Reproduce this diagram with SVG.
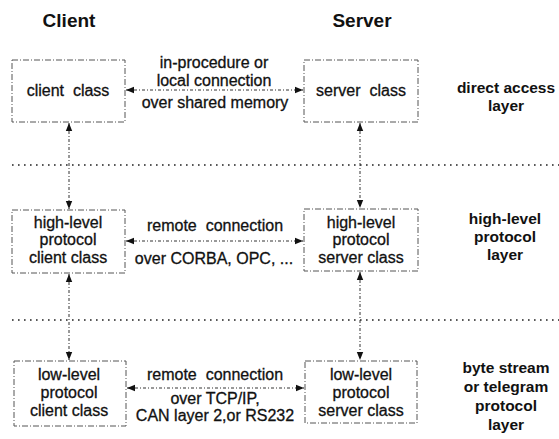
<svg xmlns="http://www.w3.org/2000/svg" width="559" height="439" viewBox="0 0 559 439">
<defs>
<style>
.box{fill:none;stroke:#555;stroke-width:1;stroke-dasharray:6 2 1 2}
.conn{stroke:#333;stroke-width:1;stroke-dasharray:3 2 1 2;fill:none}
.sep{stroke:#222;stroke-width:1.6;stroke-dasharray:1.6 4.4;fill:none}
text{font-family:"Liberation Sans",Arial,sans-serif;fill:#111;text-anchor:middle}
.t{font-size:16px;stroke:#111;stroke-width:0.3}
.b{font-size:15.5px;font-weight:bold}
.h{font-size:19px;font-weight:bold}
</style>
<marker id="ah" viewBox="0 0 10 10" refX="10" refY="5" markerWidth="8" markerHeight="8" orient="auto-start-reverse" markerUnits="userSpaceOnUse">
<path d="M0,1 L10,5 L0,9 z" fill="#111"/>
</marker>
</defs>
<rect width="559" height="439" fill="#fff"/>
<g id="headers">
<text class="h" x="69" y="27">Client</text>
<text class="h" x="362" y="27">Server</text>
</g>
<g id="separators">
<line class="sep" x1="12" y1="165" x2="559" y2="165"/>
<line class="sep" x1="12" y1="320" x2="559" y2="320"/>
</g>
<g id="connectors">
<line class="conn" x1="126" y1="90" x2="303" y2="90" marker-start="url(#ah)" marker-end="url(#ah)"/>
<line class="conn" x1="126" y1="241" x2="303" y2="241" marker-start="url(#ah)" marker-end="url(#ah)"/>
<line class="conn" x1="127" y1="388" x2="304" y2="388" marker-start="url(#ah)" marker-end="url(#ah)"/>
<line class="conn" x1="69" y1="123" x2="69" y2="209" marker-start="url(#ah)" marker-end="url(#ah)"/>
<line class="conn" x1="69" y1="274" x2="69" y2="360" marker-start="url(#ah)" marker-end="url(#ah)"/>
<line class="conn" x1="360" y1="123" x2="360" y2="208" marker-start="url(#ah)" marker-end="url(#ah)"/>
<line class="conn" x1="360" y1="272" x2="360" y2="360" marker-start="url(#ah)" marker-end="url(#ah)"/>
</g>
<g id="conn-labels">
<text class="t" x="214" y="68">in-procedure or</text>
<text class="t" x="214" y="86">local connection</text>
<text class="t" x="215" y="108">over shared memory</text>
<text class="t" x="215" y="231" xml:space="preserve">remote  connection</text>
<text class="t" x="214" y="264">over CORBA, OPC, ...</text>
<text class="t" x="215" y="380" xml:space="preserve">remote  connection</text>
<text class="t" x="215" y="404">over TCP/IP,</text>
<text class="t" x="215" y="421">CAN layer 2,or RS232</text>
</g>
<g id="client-class">
<rect class="box" x="12" y="60" width="113" height="62"/>
<text class="t" x="68" y="96" xml:space="preserve">client  class</text>
</g>
<g id="server-class">
<rect class="box" x="304" y="60" width="114" height="62"/>
<text class="t" x="361" y="96" xml:space="preserve">server  class</text>
</g>
<g id="hl-client">
<rect class="box" x="12" y="210" width="113" height="63"/>
<text class="t" x="68" y="228">high-level</text>
<text class="t" x="68" y="245">protocol</text>
<text class="t" x="68" y="263">client class</text>
</g>
<g id="hl-server">
<rect class="box" x="304" y="209" width="114" height="62"/>
<text class="t" x="361" y="228">high-level</text>
<text class="t" x="361" y="245">protocol</text>
<text class="t" x="361" y="263">server class</text>
</g>
<g id="ll-client">
<rect class="box" x="14" y="361" width="112" height="65"/>
<text class="t" x="69" y="380">low-level</text>
<text class="t" x="69" y="398">protocol</text>
<text class="t" x="69" y="416">client class</text>
</g>
<g id="ll-server">
<rect class="box" x="305" y="361" width="112" height="62"/>
<text class="t" x="361" y="380">low-level</text>
<text class="t" x="361" y="398">protocol</text>
<text class="t" x="361" y="416">server class</text>
</g>
<g id="layer-labels">
<text class="b" x="506" y="93">direct access</text>
<text class="b" x="506" y="111">layer</text>
<text class="b" x="505" y="224">high-level</text>
<text class="b" x="505" y="242">protocol</text>
<text class="b" x="505" y="260">layer</text>
<text class="b" x="506" y="373">byte stream</text>
<text class="b" x="506" y="392">or telegram</text>
<text class="b" x="506" y="411">protocol</text>
<text class="b" x="506" y="430">layer</text>
</g>
</svg>
